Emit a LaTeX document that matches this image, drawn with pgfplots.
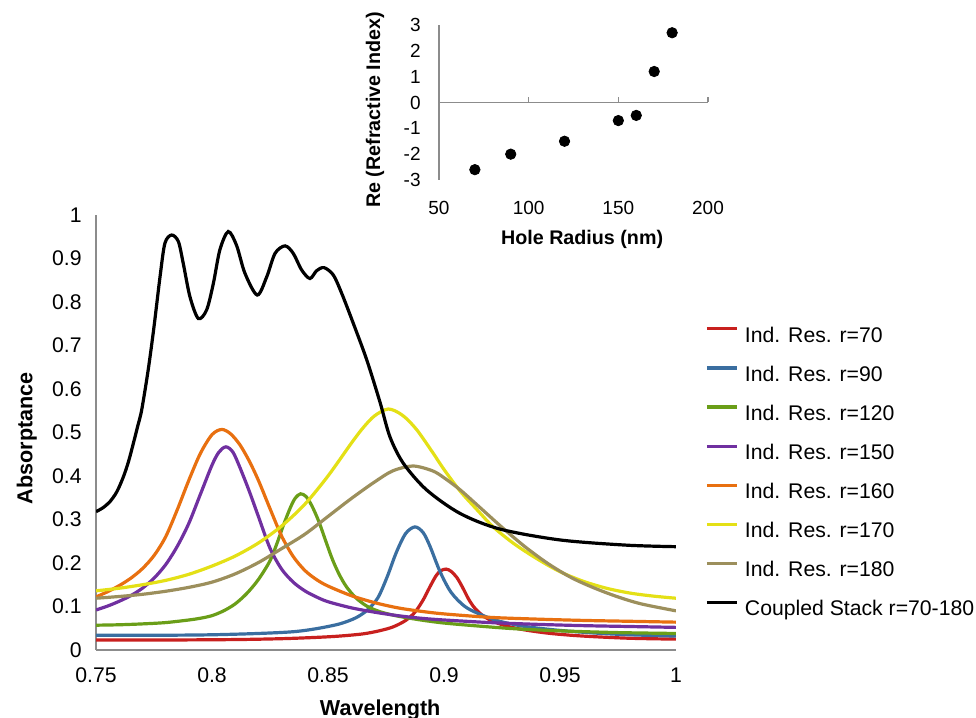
\documentclass[border=0pt]{standalone}
\usepackage{fontspec}
\setmainfont{Liberation Sans}
\usepackage{pgfplots}
\pgfplotsset{compat=1.18}

\definecolor{cred}{RGB}{200,32,30}
\definecolor{cblue}{RGB}{58,110,160}
\definecolor{cgreen}{RGB}{106,158,24}
\definecolor{cpurple}{RGB}{112,48,160}
\definecolor{corange}{RGB}{232,112,16}
\definecolor{cyellow}{RGB}{228,224,22}
\definecolor{ckhaki}{RGB}{156,143,92}
\definecolor{axisgray}{RGB}{140,140,140}

\pgfplotsset{
  curve/.style={line width=1.6pt, smooth, no markers},
}

\begin{document}
\fontsize{10.6}{12.7}\selectfont
\begin{tikzpicture}
\useasboundingbox (0,0) rectangle (488pt,359pt);

% main absorptance plot
\begin{axis}[
  at={(48pt,34pt)}, anchor=south west,
  scale only axis, width=290pt, height=217.5pt,
  xmin=0.75, xmax=1, ymin=0, ymax=1,
  axis x line=bottom, axis y line=left,
  axis line style={-, draw=axisgray, line width=0.8pt},
  major tick length=0pt,
  xtick={0.75,0.8,0.85,0.9,0.95,1},
  xticklabels={0.75,0.8,0.85,0.9,0.95,1},
  ytick={0,0.1,0.2,0.3,0.4,0.5,0.6,0.7,0.8,0.9,1},
  yticklabels={0,0.1,0.2,0.3,0.4,0.5,0.6,0.7,0.8,0.9,1},
  xticklabel style={anchor=center, inner sep=0pt, yshift=-12.5pt},
  yticklabel style={anchor=east, inner sep=0pt, xshift=-7pt},
  xlabel={Wavelength},
  xlabel style={at={(axis description cs:0.49,-0.1506)}, anchor=base, inner sep=0pt, font=\fontsize{10.8}{13}\selectfont\bfseries},
  ylabel={Absorptance},
  ylabel style={at={(axis description cs:-0.1095,0.487)}, anchor=base, rotate=0, inner sep=0pt, font=\fontsize{10.8}{13}\selectfont\bfseries},
  legend cell align=left,
  legend image code/.code={\draw[#1, line width=1.6pt] (0pt,3.6pt) -- (15pt,3.6pt);},
  legend style={at={(1.05,0.7457)}, anchor=north west, draw=none, fill=none,
    inner sep=0pt, row sep=9.55pt,
    nodes={inner sep=0pt, text height=8pt, text depth=2pt},
    /tikz/every odd column/.append style={column sep=3.2pt}},
]
\addplot[curve, cred] coordinates {
(0.75,0.023) (0.78,0.023) (0.81,0.024) (0.83,0.026) (0.845,0.029)
(0.855,0.032) (0.865,0.037) (0.872,0.044) (0.878,0.053) (0.8835,0.068)
(0.8875,0.087) (0.891,0.115) (0.894,0.146) (0.8965,0.170) (0.8985,0.182)
(0.9009,0.186) (0.903,0.181) (0.9055,0.167) (0.908,0.144) (0.9105,0.118)
(0.913,0.098) (0.9165,0.080) (0.921,0.066) (0.927,0.055) (0.935,0.046)
(0.946,0.038) (0.96,0.032) (0.98,0.027) (1.0,0.025)};
\addlegendentry{Ind. Res. r=70}
\addplot[curve, cblue] coordinates {
(0.75,0.034) (0.78,0.034) (0.80,0.035) (0.82,0.038) (0.835,0.042)
(0.845,0.049) (0.855,0.060) (0.862,0.074) (0.867,0.092) (0.8715,0.120)
(0.8755,0.168) (0.8795,0.225) (0.8835,0.268) (0.8875,0.283) (0.891,0.270)
(0.894,0.238) (0.8983,0.180) (0.903,0.133) (0.909,0.100) (0.916,0.081)
(0.924,0.066) (0.935,0.054) (0.95,0.045) (0.965,0.039) (0.98,0.035)
(1.0,0.032)};
\addlegendentry{Ind. Res. r=90}
\addplot[curve, cgreen] coordinates {
(0.75,0.057) (0.76,0.058) (0.77,0.060) (0.78,0.063) (0.79,0.069)
(0.795,0.073) (0.80,0.079) (0.805,0.090) (0.81,0.106) (0.815,0.130)
(0.82,0.162) (0.825,0.205) (0.828,0.245) (0.831,0.290) (0.834,0.330)
(0.836,0.350) (0.8382,0.359) (0.8405,0.353) (0.843,0.332) (0.846,0.296)
(0.849,0.251) (0.852,0.207) (0.855,0.172) (0.858,0.145) (0.862,0.120)
(0.867,0.100) (0.873,0.087) (0.88,0.078) (0.89,0.069) (0.90,0.062)
(0.915,0.055) (0.93,0.049) (0.95,0.044) (0.975,0.040) (1.0,0.038)};
\addlegendentry{Ind. Res. r=120}
\addplot[curve, cpurple] coordinates {
(0.75,0.092) (0.755,0.101) (0.76,0.112) (0.765,0.125) (0.77,0.142)
(0.775,0.165) (0.78,0.196) (0.785,0.238) (0.79,0.291) (0.795,0.358)
(0.80,0.425) (0.803,0.455) (0.806,0.467) (0.809,0.455) (0.812,0.420)
(0.816,0.366) (0.82,0.307) (0.825,0.234) (0.83,0.186) (0.835,0.156)
(0.84,0.136) (0.845,0.122) (0.85,0.111) (0.86,0.097) (0.87,0.087)
(0.88,0.079) (0.89,0.073) (0.90,0.069) (0.92,0.063) (0.94,0.059)
(0.96,0.056) (0.98,0.054) (1.0,0.052)};
\addlegendentry{Ind. Res. r=150}
\addplot[curve, corange] coordinates {
(0.75,0.122) (0.755,0.134) (0.76,0.148) (0.765,0.165) (0.77,0.187)
(0.775,0.217) (0.78,0.260) (0.785,0.322) (0.79,0.390) (0.795,0.452)
(0.80,0.495) (0.8042,0.507) (0.808,0.497) (0.812,0.472) (0.816,0.435)
(0.82,0.390) (0.825,0.325) (0.83,0.262) (0.835,0.215) (0.84,0.183)
(0.845,0.162) (0.85,0.147) (0.86,0.125) (0.87,0.109) (0.88,0.097)
(0.89,0.089) (0.90,0.083) (0.92,0.075) (0.94,0.071) (0.96,0.068)
(0.98,0.066) (1.0,0.064)};
\addlegendentry{Ind. Res. r=160}
\addplot[curve, cyellow] coordinates {
(0.75,0.136) (0.76,0.142) (0.77,0.150) (0.78,0.160) (0.79,0.174)
(0.80,0.193) (0.81,0.216) (0.82,0.246) (0.83,0.285) (0.84,0.335)
(0.85,0.400) (0.86,0.475) (0.865,0.510) (0.87,0.538) (0.876,0.554)
(0.882,0.540) (0.888,0.508) (0.895,0.455) (0.90,0.415) (0.907,0.365)
(0.915,0.318) (0.9212,0.283) (0.93,0.245) (0.94,0.210) (0.95,0.180)
(0.96,0.158) (0.97,0.142) (0.98,0.131) (0.99,0.124) (1.0,0.119)};
\addlegendentry{Ind. Res. r=170}
\addplot[curve, ckhaki] coordinates {
(0.75,0.119) (0.76,0.123) (0.77,0.128) (0.78,0.135) (0.79,0.144)
(0.80,0.156) (0.81,0.175) (0.82,0.201) (0.83,0.233) (0.84,0.266)
(0.85,0.307) (0.86,0.348) (0.87,0.386) (0.878,0.412) (0.8866,0.423)
(0.895,0.412) (0.90,0.396) (0.907,0.368) (0.915,0.330) (0.925,0.282)
(0.935,0.237) (0.945,0.198) (0.955,0.166) (0.965,0.142) (0.975,0.122)
(0.985,0.106) (1.0,0.090)};
\addlegendentry{Ind. Res. r=180}
\addplot[curve, black] coordinates {
(0.75,0.318) (0.753,0.327) (0.756,0.341) (0.759,0.364) (0.7618,0.398)
(0.764,0.433) (0.7661,0.475) (0.768,0.515) (0.7697,0.552) (0.7725,0.644)
(0.775,0.743) (0.7776,0.858) (0.7797,0.935) (0.7826,0.954) (0.7855,0.939)
(0.7876,0.889) (0.7905,0.812) (0.7941,0.762) (0.7977,0.782) (0.8006,0.843)
(0.8034,0.920) (0.807,0.962) (0.8106,0.930) (0.8142,0.866) (0.8195,0.816)
(0.8236,0.858) (0.8272,0.912) (0.8315,0.929) (0.835,0.912) (0.8386,0.874)
(0.8422,0.854) (0.8451,0.872) (0.8483,0.879) (0.8523,0.862) (0.8559,0.820)
(0.8609,0.751) (0.8667,0.667) (0.8724,0.570) (0.8767,0.490) (0.8825,0.429)
(0.8925,0.368) (0.9069,0.314) (0.9241,0.278) (0.95,0.253) (0.9787,0.241)
(1.0,0.2375)};
\addlegendentry{Coupled Stack r=70-180}
\end{axis}

% inset: refractive index vs hole radius
\begin{axis}[
  at={(219.5pt,269pt)}, anchor=south west,
  scale only axis, width=134.5pt, height=77.5pt,
  xmin=50, xmax=200, ymin=-3, ymax=3,
  axis y line=left, axis x line=middle,
  axis line style={-, draw=axisgray, line width=0.7pt},
  hide obscured x ticks=false, hide obscured y ticks=false,
  xtick={50,100,150,200}, ytick={-3,-2,-1,0,1,2,3},
  yticklabels={-3,-2,-1,0,1,2,3},
  xticklabels={50,100,150,200},
  y tick style={draw=none},
  x tick style={draw=axisgray, line width=0.7pt},
  major tick length=2.5pt, tick align=inside,
  tick label style={font=\fontsize{9.5}{11}\selectfont},
  xticklabel style={anchor=center, inner sep=0pt, yshift=-52.5pt},
  yticklabel style={anchor=east, inner sep=0pt, xshift=-9pt},
  xlabel={Hole Radius (nm)},
  xlabel style={at={(axis description cs:0.532,-0.419)}, anchor=base, inner sep=0pt, font=\fontsize{9.85}{12}\selectfont\bfseries},
  ylabel={Re (Refractive Index)},
  ylabel style={at={(axis description cs:-0.219,0.452)}, anchor=base, rotate=0, inner sep=0pt, font=\fontsize{9.85}{12}\selectfont\bfseries},
  clip=false,
]
\addplot[only marks, mark=*, mark size=2.6pt, black] coordinates {
(70,-2.6) (90,-2.0) (120,-1.5) (150,-0.7) (160,-0.5) (170,1.2) (180,2.7)};
\end{axis}
\end{tikzpicture}
\end{document}
